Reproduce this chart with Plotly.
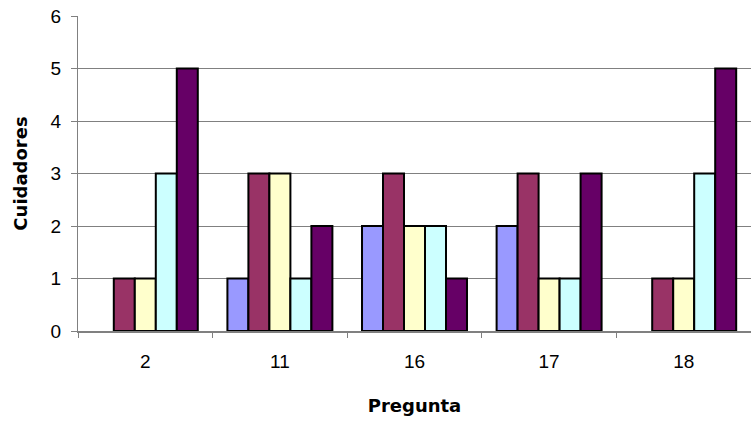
import plotly.graph_objects as go

# Question numbers along the x axis
preguntas = ["2", "11", "16", "17", "18"]

# Number of caregivers per answer option (five series per question)
serie_1 = [0, 1, 2, 2, 0]
serie_2 = [1, 3, 3, 3, 1]
serie_3 = [1, 3, 2, 1, 1]
serie_4 = [3, 1, 2, 1, 3]
serie_5 = [5, 2, 1, 3, 5]

series = [serie_1, serie_2, serie_3, serie_4, serie_5]
colores = ["#9999FF", "#993366", "#FFFFCC", "#CCFFFF", "#660066"]

fig = go.Figure()
for vals, col in zip(series, colores):
    # zero counts are left empty so no outline is drawn on the baseline
    y = [v if v != 0 else None for v in vals]
    fig.add_trace(go.Bar(
        x=preguntas, y=y,
        marker=dict(color=col, line=dict(color="#000000", width=2)),
        showlegend=False,
    ))

font_family = "Liberation Sans, Arial, sans-serif"
title_font = dict(family="DejaVu Sans, sans-serif", size=18, weight="bold")

fig.update_layout(
    width=751, height=422,
    margin=dict(l=78, r=0, t=16, b=91),
    paper_bgcolor="white", plot_bgcolor="white",
    barmode="group", bargap=0.22, bargroupgap=0,
    font=dict(family=font_family, size=19, color="#000000"),
    xaxis=dict(
        type="category",
        tickson="boundaries",
        ticks="outside", ticklen=5, tickcolor="#808080", tickwidth=1,
        showline=True, linecolor="#808080", linewidth=2,
        showgrid=False,
        ticklabelstandoff=12,
        title=dict(text="Pregunta", font=title_font, standoff=29),
    ),
    yaxis=dict(
        range=[0, 6], dtick=1,
        ticks="outside", ticklen=6, tickcolor="#808080", tickwidth=1,
        showline=True, linecolor="#808080", linewidth=1,
        showgrid=True, gridcolor="#808080", gridwidth=1,
        zeroline=False,
        ticklabelstandoff=6,
        title=dict(text="Cuidadores", font=title_font, standoff=18),
    ),
)

fig.write_html("out.html")
